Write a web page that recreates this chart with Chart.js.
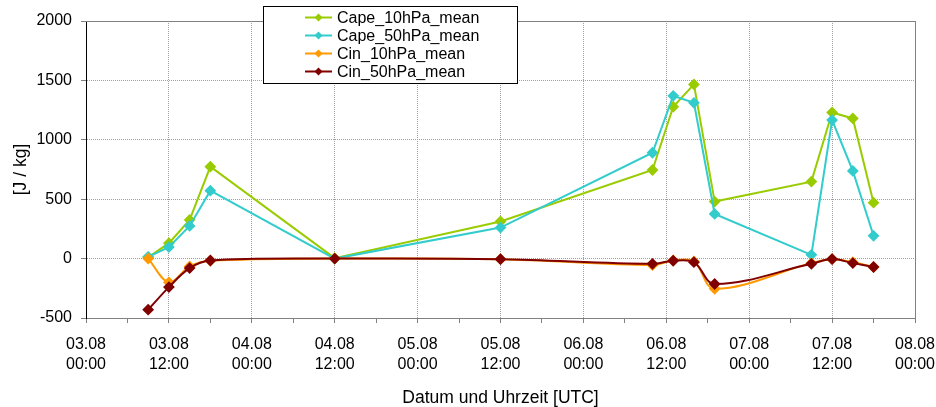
<!DOCTYPE html>
<html>
<head>
<meta charset="utf-8">
<script src="https://cdn.jsdelivr.net/npm/chart.js@4.4.0/dist/chart.umd.min.js"></script>
<style>
  html, body { margin: 0; padding: 0; background: #fff; }
  #wrap { width: 936px; height: 407px; position: relative; }
</style>
</head>
<body>
<div id="wrap"><canvas id="cape"></canvas></div>
<script>
// hours after 03.08 00:00 UTC
const hours = [9, 12, 15, 18, 36, 60, 82, 85, 88, 91, 105, 108, 111, 114];
const cape10 = [10, 130, 326, 774, 4, 312, 746, 1278, 1466, 480, 648, 1230, 1180, 471];
const cape50 = [15, 97, 275, 572, 0, 261, 891, 1370, 1311, 376, 32, 1166, 738, 192];
const cin10 = [0, -200, -66, -18, 0, -5, -55, -15, -24, -254, -38, -5, -30, -71];
const cin50 = [-430, -240, -80, -16, 0, -5, -44, -18, -30, -214, -44, -4, -38, -71];
const yTicks = [-500, 0, 500, 1000, 1500, 2000];

const pts = vals => vals.map((v, i) => ({ x: hours[i], y: v }));
const font = { family: 'Arial, "Liberation Sans", sans-serif', size: 16, lineHeight: 1.25 };
const titleFont = { family: 'Arial, "Liberation Sans", sans-serif', size: 17.5, lineHeight: 1 };

function series(label, vals, color, order, tension) {
  return {
    label: label,
    data: pts(vals),
    borderColor: color,
    backgroundColor: color,
    borderWidth: 2,
    pointStyle: 'rectRot',
    pointRadius: 4.5,
    pointHoverRadius: 4.5,
    tension: tension,
    order: order
  };
}

// legend box drawn on top of the plot, like the original
const boxLegend = {
  id: 'boxLegend',
  afterDraw(chart) {
    const c = chart.ctx;
    c.save();
    c.fillStyle = '#fff';
    c.fillRect(263, 6, 254, 77);
    c.strokeStyle = '#000';
    c.lineWidth = 1;
    c.strokeRect(263.5, 6.5, 254, 77);
    c.font = '16px Arial, "Liberation Sans", sans-serif';
    c.textBaseline = 'middle';
    chart.data.datasets.forEach((ds, i) => {
      const y = 17.5 + i * 18;
      c.strokeStyle = ds.borderColor;
      c.lineWidth = 2;
      c.beginPath();
      c.moveTo(305, y);
      c.lineTo(332, y);
      c.stroke();
      c.fillStyle = ds.borderColor;
      c.beginPath();
      c.moveTo(318.5, y - 4);
      c.lineTo(322.5, y);
      c.lineTo(318.5, y + 4);
      c.lineTo(314.5, y);
      c.closePath();
      c.fill();
      c.fillStyle = '#000';
      c.fillText(ds.label, 337, y + 1);
    });
    c.restore();
  }
};

// solid top and right edge of the plot area
const frame = {
  id: 'frame',
  beforeDatasetsDraw(chart) {
    const { ctx: c, chartArea: a } = chart;
    c.save();
    c.strokeStyle = '#808080';
    c.lineWidth = 1;
    c.beginPath();
    c.moveTo(a.left, a.top + 0.5);
    c.lineTo(a.right + 0.5, a.top + 0.5);
    c.lineTo(a.right + 0.5, a.bottom);
    c.stroke();
    c.restore();
  }
};

new Chart(document.getElementById('cape'), {
  type: 'line',
  data: {
    datasets: [
      series('Cape_10hPa_mean', cape10, '#99cc00', 4, 0),
      series('Cape_50hPa_mean', cape50, '#33cccc', 3, 0),
      series('Cin_10hPa_mean', cin10, '#ff9900', 2, 0.35),
      series('Cin_50hPa_mean', cin50, '#800000', 1, 0.35)
    ]
  },
  options: {
    responsive: true,
    maintainAspectRatio: false,
    animation: false,
    layout: { padding: { left: 0, right: 21, top: 21, bottom: 0 } },
    plugins: {
      legend: { display: false },
      tooltip: { enabled: false }
    },
    scales: {
      x: {
        type: 'linear',
        min: 0,
        max: 120,
        afterFit: s => {
          s.height = 89;
          s.paddingLeft = 0;
          s.paddingRight = 0;
        },
        ticks: {
          stepSize: 6,
          autoSkip: false,
          maxRotation: 0,
          padding: 12,
          color: '#000',
          font: font,
          callback: v => {
            if (v % 12 !== 0) return '';
            const d = 3 + Math.floor(v / 24);
            const h = v % 24;
            return ['0' + d + '.08', (h < 10 ? '0' + h : h) + ':00'];
          }
        },
        grid: {
          color: c => (c.tick && c.tick.value % 12 === 0 ? '#a0a0a0' : 'rgba(0,0,0,0)'),
          tickColor: '#808080',
          tickLength: 5,
          lineWidth: 1
        },
        border: { color: '#808080', dash: [1, 1] },
        title: {
          display: true,
          text: 'Datum und Uhrzeit [UTC]',
          color: '#000',
          font: titleFont,
          padding: { top: 0, bottom: 0 }
        }
      },
      y: {
        min: -500,
        max: 2000,
        afterFit: s => { s.width = 86; },
        afterBuildTicks: s => { s.ticks = yTicks.map(v => ({ value: v })); },
        ticks: {
          padding: 9,
          color: '#000',
          font: font,
          callback: v => String(v)
        },
        grid: {
          color: '#a0a0a0',
          tickColor: '#808080',
          tickLength: 5
        },
        border: { color: '#000', dash: [1, 1] },
        title: {
          display: true,
          text: '[J / kg]',
          color: '#000',
          font: titleFont,
          padding: { top: 12, bottom: 0 }
        }
      }
    }
  },
  plugins: [frame, boxLegend]
});
</script>
</body>
</html>
